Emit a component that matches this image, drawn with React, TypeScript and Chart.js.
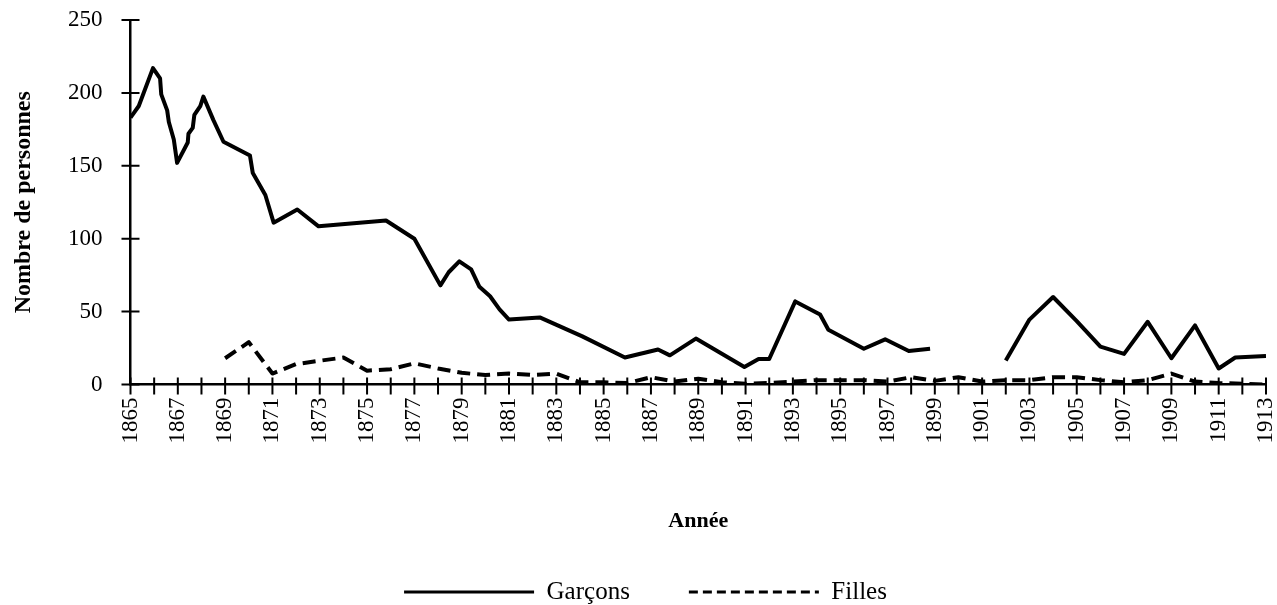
import React, { useEffect, useRef } from 'react';
import { Chart, registerables } from 'chart.js';

Chart.register(...registerables);

// ---- Data ----
const seriesNames = ['Garçons', 'Filles'];
const xTitle = 'Année';
const yTitle = 'Nombre de personnes';

const garconsYears = [
  1865, 1865.35, 1865.95, 1866.25, 1866.3, 1866.55, 1866.62, 1866.83, 1866.97,
  1867.42, 1867.45, 1867.63, 1867.7, 1867.95, 1868.08, 1868.5, 1868.93,
  1870.05, 1870.17, 1870.7, 1871.05, 1872.05, 1872.95, 1875.8, 1877,
  1878.1, 1878.45, 1878.9, 1879.4, 1879.75, 1880.2, 1880.6, 1881, 1882.3,
  1884.1, 1885.9, 1887.3, 1887.8, 1888.9, 1890.95, 1891.55, 1892, 1893.1,
  1894.15, 1894.5, 1896, 1896.9, 1897.9, 1898.8, 1900.5,
  1902, 1903, 1904, 1905, 1906, 1907, 1908, 1909, 1910, 1911, 1911.7, 1913,
];
const garconsValues = [
  183, 191, 217, 210, 199, 188, 180, 168, 152,
  166, 172, 176, 185, 191, 197.5, 181.5, 166.5,
  157, 145, 130, 111, 120, 108.5, 112.5, 100,
  68, 77, 84.5, 79, 67, 60.5, 51.5, 44.5, 46,
  33, 18.5, 24, 20, 31.5, 12, 17.5, 17.5, 57,
  48, 37.5, 24.5, 31, 23, 24.5, null,
  16.5, 44.5, 60, 43.5, 26, 21, 43, 18, 40.5, 11, 18.5, 19.5,
];

const fillesYears = [
  1869, 1870, 1871, 1872, 1873, 1874, 1875, 1876, 1877, 1878, 1879, 1880,
  1881, 1882, 1883, 1884, 1885, 1886, 1887, 1888, 1889, 1890, 1891, 1892,
  1893, 1894, 1895, 1896, 1897, 1898, 1899, 1900, 1901, 1902, 1903, 1904,
  1905, 1906, 1907, 1908, 1909, 1910, 1911, 1912, 1913,
];
const fillesValues = [
  18, 29, 7.5, 14, 16.3, 18.5, 9.5, 10.5, 14.5, 11, 8, 6.5,
  7.5, 6.5, 7.5, 1.5, 1.5, 1, 5, 2, 4, 1.5, 0.5, 1,
  2, 3, 3, 3, 2, 5, 2.5, 5, 2, 3, 3, 5,
  5, 3, 1.5, 3, 7.5, 2, 1, 0.5, 0,
];

const xTickLabels = [
  1865, 1867, 1869, 1871, 1873, 1875, 1877, 1879, 1881, 1883, 1885, 1887, 1889,
  1891, 1893, 1895, 1897, 1899, 1901, 1903, 1905, 1907, 1909, 1911, 1913,
];
const yTickValues = [0, 50, 100, 150, 200, 250];

const FONT = "'Liberation Serif', 'Times New Roman', Times, serif";

// Crossing tick marks ("+") on both axes, positioned by the chart's own scales
const crossTicks = {
  id: 'crossTicks',
  afterDraw(chart: any) {
    const { ctx, scales } = chart;
    const x = scales.x;
    const y = scales.y;
    ctx.save();
    ctx.strokeStyle = '#000';
    ctx.lineWidth = 2;
    ctx.setLineDash([]);
    ctx.beginPath();
    x.ticks.forEach((t: any) => {
      const px = x.getPixelForValue(t.value);
      ctx.moveTo(px, y.bottom - 7);
      ctx.lineTo(px, y.bottom + 10);
    });
    y.ticks.forEach((t: any) => {
      const py = y.getPixelForValue(t.value);
      ctx.moveTo(x.left - 9, py);
      ctx.lineTo(x.left + 9, py);
    });
    ctx.stroke();
    ctx.restore();
  },
};

export default function App() {
  const canvasRef = useRef<HTMLCanvasElement | null>(null);

  useEffect(() => {
    const canvas = canvasRef.current;
    if (!canvas) return;
    Chart.defaults.font.family = FONT;
    Chart.defaults.color = '#000';

    const garconsData = garconsYears.map((yr, i) => ({ x: yr, y: garconsValues[i] }));
    const fillesData = fillesYears.map((yr, i) => ({ x: yr, y: fillesValues[i] }));

    const chart = new Chart(canvas, {
      type: 'line',
      data: {
        datasets: [
          {
            label: seriesNames[0],
            data: garconsData as any,
            borderColor: '#000',
            backgroundColor: '#000',
            borderWidth: 4,
            pointRadius: 0,
            tension: 0,
            spanGaps: false,
            borderJoinStyle: 'round',
          },
          {
            label: seriesNames[1],
            data: fillesData as any,
            borderColor: '#000',
            backgroundColor: '#000',
            borderWidth: 4,
            borderDash: [13, 7],
            pointRadius: 0,
            tension: 0,
            borderJoinStyle: 'round',
          },
        ],
      },
      options: {
        animation: false,
        responsive: false,
        events: [],
        layout: { padding: { top: 20, right: 0, bottom: -9.5, left: 14 } },
        plugins: {
          legend: {
            position: 'bottom',
            labels: {
              usePointStyle: true,
              pointStyle: 'line',
              pointStyleWidth: 130,
              padding: 59,
              color: '#000',
              font: { size: 25, family: FONT },
              generateLabels: (c: any) =>
                Chart.defaults.plugins.legend.labels
                  .generateLabels(c)
                  .map((l: any) => ({
                    ...l,
                    lineWidth: 3,
                    lineDash: l.datasetIndex === 1 ? [9, 5] : [],
                  })),
            },
          },
          tooltip: { enabled: false },
        },
        scales: {
          x: {
            type: 'linear',
            min: 1865,
            max: 1913,
            afterFit: (s: any) => {
              s.height = 136;
              s.paddingLeft = 0;
              s.paddingRight = 11;
            },
            border: { display: true, color: '#000', width: 2.5 },
            grid: {
              display: true,
              drawOnChartArea: false,
              drawTicks: true,
              tickLength: 8,
              color: 'transparent',
            },
            ticks: {
              stepSize: 1,
              autoSkip: false,
              maxRotation: 90,
              minRotation: 90,
              padding: 5,
              color: '#000',
              font: { size: 23, family: FONT },
              callback: (v: any) => (xTickLabels.includes(Number(v)) ? String(v) : ''),
            },
            title: {
              display: true,
              text: xTitle,
              color: '#000',
              font: { size: 22, weight: 'bold', family: FONT, lineHeight: 1 },
              padding: { top: 0, bottom: -11.5 },
            },
          },
          y: {
            min: 0,
            max: 250,
            afterFit: (s: any) => {
              s.width = 116.5;
              s.paddingTop = 0;
              s.paddingBottom = 0;
            },
            afterBuildTicks: (s: any) => {
              s.ticks = yTickValues.map((v) => ({ value: v }));
            },
            border: { display: true, color: '#000', width: 2.5 },
            grid: {
              display: true,
              drawOnChartArea: false,
              drawTicks: true,
              tickLength: 8,
              color: 'transparent',
            },
            ticks: {
              padding: 20,
              color: '#000',
              font: { size: 23, family: FONT },
            },
            title: {
              display: true,
              text: yTitle,
              color: '#000',
              font: { size: 24, weight: 'bold', family: FONT, lineHeight: 1 },
              padding: { top: -2, bottom: 0 },
            },
          },
        },
      },
      plugins: [crossTicks],
    });

    return () => chart.destroy();
  }, []);

  return (
    <div style={{ position: 'fixed', left: 0, top: 0, width: 1277, height: 605, background: '#fff' }}>
      <canvas ref={canvasRef} width={1277} height={605} style={{ display: 'block' }} />
    </div>
  );
}
